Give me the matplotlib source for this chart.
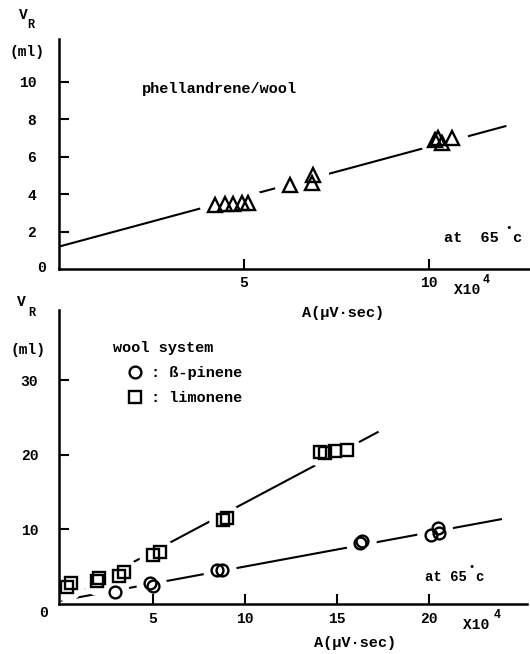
import matplotlib
matplotlib.use('Agg')
import matplotlib.pyplot as plt

plt.rcParams['font.family'] = ['Liberation Mono', 'DejaVu Sans Mono', 'DejaVu Sans']
plt.rcParams['font.weight'] = 'bold'

# top panel: phellandrene / wool  (A in x10^4 uV*sec, V_R in ml)
phel_a = [4.22, 4.49, 4.72, 4.94, 5.12, 6.25, 6.83, 6.88, 10.16, 10.24, 10.34, 10.61]
phel_v = [3.40, 3.50, 3.50, 3.55, 3.55, 4.49, 4.58, 5.03, 6.90, 6.99, 6.72, 6.99]
phel_fit_a = [0, 12.09]
phel_fit_v = [1.19, 7.65]

# bottom panel: wool system
pinene_a = [2.93, 4.84, 5.02, 8.50, 8.73, 16.25, 16.34, 20.10, 20.47, 20.53]
pinene_v = [1.50, 2.79, 2.35, 4.50, 4.50, 8.08, 8.43, 9.19, 10.09, 9.42]
pinene_fit_a = [0, 23.97]
pinene_fit_v = [0.4, 11.34]

limonene_a = [0.31, 0.54, 1.94, 2.08, 3.17, 3.42, 4.98, 5.38, 8.79, 9.00,
              14.08, 14.35, 14.89, 15.53]
limonene_v = [2.25, 2.79, 3.06, 3.38, 3.69, 4.19, 6.51, 6.95, 11.2, 11.5,
              20.4, 20.2, 20.5, 20.6]
limonene_fit_a = [0, 17.26]
limonene_fit_v = [0.4, 23.06]

top_xticks = [5, 10]
top_yticks = [2, 4, 6, 8, 10]
bot_xticks = [5, 10, 15, 20]
bot_yticks = [10, 20, 30]

W, H = 530, 654


def fig_xy(x, y):
    # pixel position in the picture -> figure fraction
    return x / W, 1 - y / H


def draw_series(ax, xs, ys, fit_x, fit_y, marker, ms, label=None):
    ax.plot(fit_x, fit_y, color='black', lw=1.5, zorder=1, solid_capstyle='butt')
    # white halo so the fitted line is broken around the points
    ax.plot(xs, ys, ls='none', marker='o', ms=ms + 11, mfc='white', mec='white', zorder=1.5)
    ax.plot(xs, ys, ls='none', marker=marker, ms=ms, mfc='none', mec='black',
            mew=1.7, zorder=3, label=label)


def style_axes(ax, xpad, ypad):
    ax.spines[['top', 'right']].set_visible(False)
    ax.spines[['left', 'bottom']].set_linewidth(1.8)
    ax.tick_params(direction='in', length=7, width=1.5, labelsize=10.5)
    ax.tick_params(axis='x', pad=xpad)
    ax.tick_params(axis='y', pad=ypad)


fig = plt.figure(figsize=(5.3, 6.54), dpi=100)

# ---- top panel
ax1 = fig.add_axes([58.5 / W, 1 - 269 / H, (529 - 58.5) / W, (269 - 39.3) / H])
ax1.set_xlim(0, 12.7)
ax1.set_ylim(0, 12.28)
draw_series(ax1, phel_a, phel_v, phel_fit_a, phel_fit_v, '^', 10.5)
ax1.set_xticks(top_xticks)
ax1.set_xticklabels([str(t) for t in top_xticks])
ax1.set_yticks(top_yticks)
ax1.set_yticklabels([str(t) for t in top_yticks])
style_axes(ax1, 5, 16)

fig.text(*fig_xy(23, 15), 'V', fontsize=10.5, ha='center', va='center')
fig.text(*fig_xy(31, 25), 'R', fontsize=8.5, ha='center', va='center')
fig.text(*fig_xy(26.7, 51.7), '(ml)', fontsize=10.5, ha='center', va='center')
fig.text(*fig_xy(41.7, 268), '0', fontsize=10.5, ha='center', va='center')
fig.text(*fig_xy(142, 89.3), 'phellandrene/wool', fontsize=11, ha='left', va='center')
fig.text(*fig_xy(444, 238), 'at  65', fontsize=11, ha='left', va='center')
fig.text(*fig_xy(509, 228), '•', fontsize=8, ha='center', va='center')
fig.text(*fig_xy(512, 238), 'c', fontsize=11, ha='left', va='center')
fig.text(*fig_xy(454, 290), 'X10', fontsize=10.5, ha='left', va='center')
fig.text(*fig_xy(483, 280), '4', fontsize=8.5, ha='left', va='center')
fig.text(*fig_xy(343, 313.3), 'A(µV·sec)', fontsize=11, ha='center', va='center')

# ---- bottom panel
ax2 = fig.add_axes([59 / W, 1 - 603.5 / H, (527 - 59) / W, (603.5 - 310) / H])
ax2.set_xlim(-0.11, 25.33)
ax2.set_ylim(0, 39.4)
draw_series(ax2, pinene_a, pinene_v, pinene_fit_a, pinene_fit_v, 'o', 8.5, label=': ß-pinene')
draw_series(ax2, limonene_a, limonene_v, limonene_fit_a, limonene_fit_v, 's', 8.5, label=': limonene')
ax2.set_xticks(bot_xticks)
ax2.set_xticklabels([str(t) for t in bot_xticks])
ax2.set_yticks(bot_yticks)
ax2.set_yticklabels([str(t) for t in bot_yticks])
style_axes(ax2, 6, 15)

leg = ax2.legend(loc='upper left', bbox_to_anchor=fig_xy(113.3, 341.3),
                 bbox_transform=fig.transFigure, frameon=False, title='wool system',
                 alignment='left', fontsize=11, title_fontsize=11, numpoints=1,
                 borderpad=0, borderaxespad=0, handlelength=2.8, handletextpad=-0.3,
                 labelspacing=0.72)
leg.get_title().set_fontweight('bold')

fig.text(*fig_xy(21.7, 301.7), 'V', fontsize=10.5, ha='center', va='center')
fig.text(*fig_xy(31.7, 313.3), 'R', fontsize=8.5, ha='center', va='center')
fig.text(*fig_xy(28.3, 350), '(ml)', fontsize=10.5, ha='center', va='center')
fig.text(*fig_xy(43.3, 613.3), '0', fontsize=10.5, ha='center', va='center')
fig.text(*fig_xy(425, 576.7), 'at 65', fontsize=10, ha='left', va='center')
fig.text(*fig_xy(472, 567.5), '•', fontsize=7.5, ha='center', va='center')
fig.text(*fig_xy(475, 576.7), 'c', fontsize=10, ha='left', va='center')
fig.text(*fig_xy(463, 625), 'X10', fontsize=10.5, ha='left', va='center')
fig.text(*fig_xy(494, 615), '4', fontsize=8.5, ha='left', va='center')
fig.text(*fig_xy(355, 643.3), 'A(µV·sec)', fontsize=11, ha='center', va='center')

fig.savefig('out.png', dpi=100)
